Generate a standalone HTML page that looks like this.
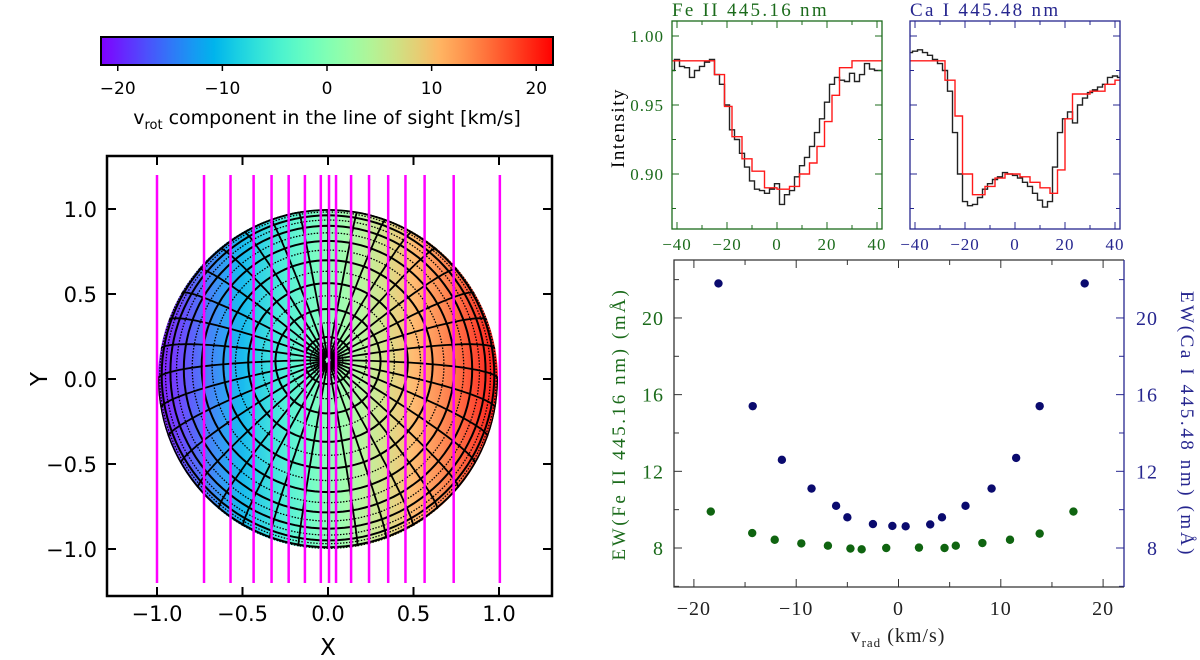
<!DOCTYPE html>
<html><head><meta charset="utf-8"><style>
html,body{margin:0;padding:0;background:#fff;}
svg{display:block;}
.sans{font-family:"DejaVu Sans","Liberation Sans",sans-serif;}
.serif{font-family:"Liberation Serif","DejaVu Serif",serif;}
</style></head><body>
<svg id="fig" width="1200" height="660" viewBox="0 0 1200 660" xmlns="http://www.w3.org/2000/svg">
<defs>
<linearGradient id="cbgrad" x1="0" x2="1" y1="0" y2="0"></linearGradient>
<linearGradient id="diskgrad" gradientUnits="userSpaceOnUse" x1="157" x2="499" y1="0" y2="0"></linearGradient>
<clipPath id="diskclip"><circle cx="328" cy="379" r="170"/></clipPath>
</defs>
<g id="left"></g>
<g id="spec"></g>
<g id="ew"></g>
</svg>
<script>
// ===== data =====
const cbTicks = [-20, -10, 0, 10, 20];
const diskTicks = [-1.0, -0.5, 0.0, 0.5, 1.0];
const sliceX = [-1.0, -0.725, -0.57, -0.435, -0.33, -0.23, -0.135, -0.042, 0.006, 0.047, 0.135, 0.24, 0.352, 0.453, 0.565, 0.735, 1.005];
const specV = [-42,-40,-38,-36,-34,-32,-30,-28,-26,-24,-22,-20,-18,-16,-14,-12,-10,-8,-6,-4,-2,0,2,4,6,8,10,12,14,16,18,20,22,24,26,28,30,32,34,36,38,40,42];
const feObs = [0.975,0.983,0.978,0.977,0.970,0.975,0.978,0.981,0.983,0.972,0.965,0.950,0.932,0.925,0.915,0.905,0.895,0.889,0.888,0.886,0.889,0.893,0.878,0.885,0.888,0.898,0.906,0.912,0.920,0.930,0.940,0.952,0.965,0.970,0.968,0.967,0.973,0.967,0.972,0.980,0.976,0.975,0.975];
const caObs = [0.988,0.989,0.990,0.988,0.986,0.983,0.980,0.975,0.960,0.930,0.900,0.880,0.877,0.878,0.883,0.889,0.893,0.896,0.898,0.901,0.900,0.899,0.897,0.894,0.891,0.886,0.881,0.876,0.880,0.905,0.930,0.940,0.945,0.937,0.950,0.955,0.959,0.961,0.963,0.965,0.970,0.971,0.970];
const feModelEdges = [-42,-25,-21,-18,-14,-10,-5,0,5,9,13,16,19,22,25,30,42];
const feModel = [0.982,0.972,0.949,0.927,0.911,0.902,0.890,0.889,0.891,0.900,0.908,0.920,0.938,0.957,0.977,0.982];
const caModelEdges = [-42,-28,-24,-21,-17,-12,-8,-4,2,6,10,14,17,20,23,30,36,40,42];
const caModel = [0.982,0.968,0.942,0.900,0.885,0.891,0.897,0.900,0.898,0.894,0.890,0.886,0.903,0.940,0.958,0.960,0.965,0.968];
const specXTicks = [-40,-20,0,20,40];
const specYTicks = [0.90,0.95,1.00];
const feV = [-18.35,-14.3,-12.1,-9.5,-6.9,-4.7,-3.6,-1.2,2.0,4.5,5.6,8.2,10.9,13.8,17.1];
const feEW = [9.9,8.78,8.43,8.24,8.12,7.97,7.93,8.0,8.02,8.0,8.12,8.26,8.43,8.75,9.9];
const caV = [-17.6,-14.25,-11.4,-8.5,-6.1,-5.0,-2.5,-0.6,0.7,3.1,4.25,6.55,9.1,11.5,13.8,18.2];
const caEW = [21.8,15.4,12.6,11.1,10.2,9.6,9.25,9.15,9.13,9.23,9.6,10.2,11.1,12.7,15.4,21.8];
const ewXTicks = [-20,-10,0,10,20];
const ewYTicks = [8,12,16,20];

const NS = "http://www.w3.org/2000/svg";
function mk(parent, tag, attrs, text){
  const e = document.createElementNS(NS, tag);
  for (const k in attrs) e.setAttribute(k, attrs[k]);
  if (text !== undefined) e.textContent = text;
  parent.appendChild(e); return e;
}
function rainbow(t){
  const c = v => Math.round(Math.max(0, Math.min(1, v)) * 255);
  return `rgb(${c(Math.abs(2*t-0.5))},${c(Math.sin(Math.PI*t))},${c(Math.cos(Math.PI*t/2))})`;
}
const cbg = document.getElementById('cbgrad'), dg = document.getElementById('diskgrad');
for (let i = 0; i <= 20; i++){
  const t = i/20;
  mk(cbg, 'stop', {offset: t, 'stop-color': rainbow(t)});
  mk(dg, 'stop', {offset: t, 'stop-color': rainbow(t)});
}

// ===== left: colorbar =====
const L = document.getElementById('left');
const vmin = -21.6, vmax = 21.6, cbx0 = 101, cbx1 = 553;
const cbX = v => cbx0 + (v - vmin) / (vmax - vmin) * (cbx1 - cbx0);
let e = mk(L, 'rect', {x: cbx0, y: 37, width: cbx1-cbx0, height: 28, fill: 'url(#cbgrad)', stroke: '#000', 'stroke-width': 2});


cbTicks.forEach(v => {
  mk(L, 'line', {x1: cbX(v), x2: cbX(v), y1: 65, y2: 71, stroke: '#000', 'stroke-width': 1.5});
  const t = mk(L, 'text', {x: cbX(v), y: 94, 'text-anchor': 'middle', 'font-size': 17, class: 'sans'}, (v < 0 ? '\u2212' + (-v) : String(v)));
  
  
});
e = mk(L, 'text', {x: 327, y: 124, 'text-anchor': 'middle', 'font-size': 19, class: 'sans'});


e.innerHTML = 'v<tspan font-size="13" dy="5">rot</tspan><tspan dy="-5"> component in the line of sight [km/s]</tspan>';

// ===== left: disk axes =====
const fx0 = 107, fx1 = 552, fy0 = 156, fy1 = 596;
const dX = x => 328 + x * 171;
const dY = y => 379 - y * 170;
e = mk(L, 'circle', {cx: 328, cy: 379, r: 170, fill: 'url(#diskgrad)'});


mk(L, 'circle', {cx: 328, cy: 379, r: 170, fill: 'rgba(255,255,255,0.1)'});
const grid = mk(L, 'g', {'clip-path': 'url(#diskclip)'});


const tilt = Math.asin(0.11), R = 170;
function proj(lat, lon){
  const p = lat*Math.PI/180, l = lon*Math.PI/180;
  const X = Math.cos(p)*Math.sin(l);
  const Y = Math.sin(p)*Math.sin(tilt) - Math.cos(p)*Math.cos(l)*Math.cos(tilt);
  const D = Math.sin(p)*Math.cos(tilt) + Math.cos(p)*Math.cos(l)*Math.sin(tilt);
  return [328 + X*R, 379 - Y*R, D];
}
function drawPath(pts, attrs){
  let d = '', pen = false;
  pts.forEach(p => { if (p[2] > 0.03){ d += (pen ? 'L' : 'M') + p[0].toFixed(1) + ' ' + p[1].toFixed(1); pen = true; } else pen = false; });
  if (d) mk(grid, 'path', Object.assign({d: d, fill: 'none'}, attrs));
}
const solidLat = [82, 72, 62, 52, 42, 32, 22, 12, 2];
const dotLat = [89, 88, 87, 86, 85, 84, 77, 67, 57, 47, 37, 27, 17, 8, -3];
solidLat.forEach(la => { const pts = []; for (let lo = 0; lo <= 360; lo += 3) pts.push(proj(la, lo)); drawPath(pts, {stroke: '#000', 'stroke-width': 2}); });
dotLat.forEach(la => { const pts = []; for (let lo = 0; lo <= 360; lo += 3) pts.push(proj(la, lo)); drawPath(pts, {stroke: '#000', 'stroke-width': 1.3, 'stroke-dasharray': '1.5 1.5'}); });
for (let lo = 0; lo < 360; lo += 10){ const pts = []; for (let la = 89; la >= -12; la -= 2) pts.push(proj(la, lo)); drawPath(pts, {stroke: '#000', 'stroke-width': 1.8}); }
sliceX.forEach(x => {
  const l = mk(L, 'line', {x1: dX(x), x2: dX(x), y1: dY(1.2), y2: dY(-1.2), stroke: '#ff00ff', 'stroke-width': 2.5});
  
  
});
e = mk(L, 'rect', {x: fx0, y: fy0, width: fx1-fx0, height: fy1-fy0, fill: 'none', stroke: '#000', 'stroke-width': 2.5});


diskTicks.forEach(v => {
  mk(L, 'line', {x1: dX(v), x2: dX(v), y1: fy1, y2: fy1-9, stroke: '#000', 'stroke-width': 2});
  mk(L, 'line', {x1: dX(v), x2: dX(v), y1: fy0, y2: fy0+9, stroke: '#000', 'stroke-width': 2});
  mk(L, 'line', {x1: fx0, x2: fx0+9, y1: dY(v), y2: dY(v), stroke: '#000', 'stroke-width': 2});
  mk(L, 'line', {x1: fx1, x2: fx1-9, y1: dY(v), y2: dY(v), stroke: '#000', 'stroke-width': 2});
  const s = (v < 0 ? '\u2212' : '') + Math.abs(v).toFixed(1);
  let t = mk(L, 'text', {x: dX(v), y: 621, 'text-anchor': 'middle', 'font-size': 21, class: 'sans'}, s);
  
  
  t = mk(L, 'text', {x: 97, y: dY(v) + 8, 'text-anchor': 'end', 'font-size': 21, class: 'sans'}, s);
  
  
});
e = mk(L, 'text', {x: 328, y: 655, 'text-anchor': 'middle', 'font-size': 23, class: 'sans'}, 'X');


e = mk(L, 'text', {x: 0, y: 0, 'text-anchor': 'middle', 'font-size': 23, class: 'sans', transform: 'translate(47,379) rotate(-90)'}, 'Y');



// ===== spectra panels =====
const S = document.getElementById('spec');
const sy0 = 21, sy1 = 229;
const sY = I => 36 + (1.00 - I) * 1380;
function specPanel(x0, x1, color, title, obs, edges, model, name){
  const g = mk(S, 'g', {});
  
  
  const sX = v => x0 + 5 + (v + 40) / 80 * (x1 - x0 - 10);
  let d = '';
  specV.forEach((v, i) => {
    const a = sX(Math.max(-42, v - 1)), b = sX(Math.min(42, v + 1)), y = sY(obs[i]);
    d += (i === 0 ? 'M' : 'L') + a.toFixed(1) + ' ' + y.toFixed(1) + 'L' + b.toFixed(1) + ' ' + y.toFixed(1);
  });
  let p = mk(g, 'path', {d: d, fill: 'none', stroke: '#222', 'stroke-width': 1.4});
  
  
  d = '';
  model.forEach((m, i) => {
    const a = sX(edges[i]), b = sX(edges[i+1]), y = sY(m);
    d += (i === 0 ? 'M' : 'L') + a.toFixed(1) + ' ' + y.toFixed(1) + 'L' + b.toFixed(1) + ' ' + y.toFixed(1);
  });
  p = mk(g, 'path', {d: d, fill: 'none', stroke: '#ff1a1a', 'stroke-width': 1.4});
  
  
  const f = mk(g, 'rect', {x: x0, y: sy0, width: x1-x0, height: sy1-sy0, fill: 'none', stroke: color, 'stroke-width': 1.3});
  
  
  for (let v = -40; v <= 40; v += 10){
    const len = (v % 20 === 0) ? 7 : 4;
    mk(g, 'line', {x1: sX(v), x2: sX(v), y1: sy1, y2: sy1-len, stroke: color, 'stroke-width': 1});
    mk(g, 'line', {x1: sX(v), x2: sX(v), y1: sy0, y2: sy0+len, stroke: color, 'stroke-width': 1});
  }
  for (let I = 0.875; I <= 1.01; I += 0.025){
    const major = Math.abs(Math.round(I*1000) % 50) === 0;
    const len = major ? 7 : 4;
    mk(g, 'line', {x1: x0, x2: x0+len, y1: sY(I), y2: sY(I), stroke: color, 'stroke-width': 1});
    mk(g, 'line', {x1: x1, x2: x1-len, y1: sY(I), y2: sY(I), stroke: color, 'stroke-width': 1});
  }
  specXTicks.forEach(v => {
    const t = mk(g, 'text', {x: sX(v), y: 250, 'text-anchor': 'middle', 'font-size': 17, fill: color, class: 'serif', 'letter-spacing': '1'}, (v < 0 ? '\u2212' + (-v) : String(v)));
    
    
  });
  const t = mk(g, 'text', {x: x0, y: 16, 'font-size': 19, fill: color, class: 'serif', 'letter-spacing': '2.3'}, title);
  
  
}
specPanel(672, 882, '#1b6b1b', 'Fe II 445.16 nm', feObs, feModelEdges, feModel, 'fe-spectrum-panel');
specPanel(910, 1120, '#26268f', 'Ca I 445.48 nm', caObs, caModelEdges, caModel, 'ca-spectrum-panel');
specYTicks.forEach(I => {
  const t = mk(S, 'text', {x: 664, y: sY(I) + 6, 'text-anchor': 'end', 'font-size': 17, fill: '#1b6b1b', class: 'serif', 'letter-spacing': '1'}, I.toFixed(2));
  
  
});
e = mk(S, 'text', {x: 0, y: 0, 'text-anchor': 'middle', 'font-size': 19, class: 'serif', 'letter-spacing': '1.5', transform: 'translate(624,128) rotate(-90)'}, 'Intensity');



// ===== EW panel =====
const W = document.getElementById('ew');
const ex0 = 674, ex1 = 1124, ey0 = 260, ey1 = 587;
const eX = v => 898.5 + v * 10.23;
const eY = w => 548 - (w - 8) * 19.17;
for (let v = -20; v <= 20; v += 5){
  const len = (v % 10 === 0) ? 8 : 5;
  mk(W, 'line', {x1: eX(v), x2: eX(v), y1: ey1, y2: ey1-len, stroke: '#333', 'stroke-width': 1});
  mk(W, 'line', {x1: eX(v), x2: eX(v), y1: ey0, y2: ey0+len, stroke: '#333', 'stroke-width': 1});
}
for (let w = 6; w <= 22; w += 2){
  const len = (w % 4 === 0) ? 8 : 5;
  mk(W, 'line', {x1: ex0, x2: ex0+len, y1: eY(w), y2: eY(w), stroke: '#333', 'stroke-width': 1});
  mk(W, 'line', {x1: ex1, x2: ex1-len, y1: eY(w), y2: eY(w), stroke: '#26268f', 'stroke-width': 1});
}
mk(W, 'path', {d: `M${ex1} ${ey0}L${ex0} ${ey0}L${ex0} ${ey1}L${ex1} ${ey1}`, fill: 'none', stroke: '#333', 'stroke-width': 1.3});
mk(W, 'line', {x1: ex1, x2: ex1, y1: ey0, y2: ey1, stroke: '#26268f', 'stroke-width': 1.3});
feV.forEach((v, i) => {
  const c = mk(W, 'circle', {cx: eX(v), cy: eY(feEW[i]), r: 4.2, fill: '#0f6410'});
  
  
});
caV.forEach((v, i) => {
  const c = mk(W, 'circle', {cx: eX(v), cy: eY(caEW[i]), r: 4.2, fill: '#0a0a6e'});
  
  
});
ewXTicks.forEach(v => {
  const t = mk(W, 'text', {x: eX(v), y: 615, 'text-anchor': 'middle', 'font-size': 20, fill: '#222', class: 'serif', 'letter-spacing': '1'}, (v < 0 ? '\u2212' + (-v) : String(v)));
  
  
});
ewYTicks.forEach(w => {
  let t = mk(W, 'text', {x: 664, y: eY(w) + 7, 'text-anchor': 'end', 'font-size': 20, fill: '#1b6b1b', class: 'serif', 'letter-spacing': '1'}, String(w));
  
  
  t = mk(W, 'text', {x: 1158, y: eY(w) + 7, 'text-anchor': 'end', 'font-size': 20, fill: '#26268f', class: 'serif', 'letter-spacing': '1'}, String(w));
  
  
});
e = mk(W, 'text', {x: 898, y: 642, 'text-anchor': 'middle', 'font-size': 20, fill: '#222', class: 'serif', 'letter-spacing': '1'});


e.innerHTML = 'v<tspan font-size="13" dy="5">rad</tspan><tspan dy="-5"> (km/s)</tspan>';
e = mk(W, 'text', {x: 0, y: 0, 'text-anchor': 'middle', 'font-size': 19, fill: '#1b6b1b', class: 'serif', 'letter-spacing': '2.6', transform: 'translate(625,424) rotate(-90)'}, 'EW(Fe II 445.16 nm) (mÅ)');


e = mk(W, 'text', {x: 0, y: 0, 'text-anchor': 'middle', 'font-size': 19, fill: '#26268f', class: 'serif', 'letter-spacing': '2.6', transform: 'translate(1181,424) rotate(90)'}, 'EW(Ca I 445.48 nm) (mÅ)');


</script>
</body></html>
